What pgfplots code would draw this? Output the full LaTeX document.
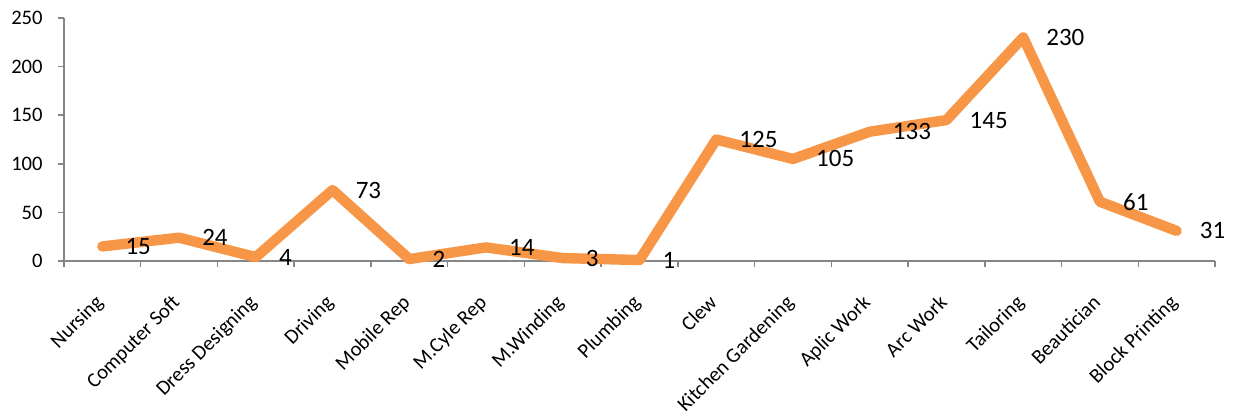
\documentclass[border=0pt]{standalone}
\usepackage{pgfplots}
\pgfplotsset{compat=1.18}
\usepackage{fontspec}
\setmainfont{Carlito}
\definecolor{lineorange}{HTML}{F79646}
\definecolor{axisgray}{HTML}{868686}

\begin{document}
\begin{tikzpicture}
  \begin{axis}[
      scale only axis,
      width=575.5pt, height=121.5pt,
      xmin=-0.5, xmax=14.5,
      ymin=0, ymax=250,
      ytick={0,50,...,250},
      xtick={0,...,14},
      xticklabels={Nursing, Computer Soft, Dress Designing, Driving, Mobile Rep,
        M.Cyle Rep, M.Winding, Plumbing, Clew, Kitchen Gardening, Aplic Work,
        Arc Work, Tailoring, Beautician, Block Printing},
      minor xtick={-0.5,0.5,...,14.5},
      axis x line=bottom, axis y line=left,
      axis line style={-, draw=axisgray, line width=0.75pt},
      tick style={draw=axisgray, line width=0.75pt},
      major x tick style={draw=none},
      tick align=outside,
      major tick length=3pt, minor tick length=3pt,
      /pgf/number format/assume math mode=true,
      tick label style={font=\fontsize{10.3}{12}\selectfont},
      yticklabel style={inner sep=0pt, xshift=-7.5pt},
      xticklabel style={inner sep=0pt, xshift=-4.2pt, yshift=-13pt,
        rotate=45, anchor=north east},
      clip=false,
      nodes near coords,
      point meta=explicit symbolic,
      every node near coord/.append style={anchor=west, inner sep=0pt,
        xshift=9pt, font=\fontsize{12.5}{14}\selectfont, text=black},
    ]
    \addplot[lineorange, line width=5.2pt, line join=round, line cap=round]
      coordinates {
        (0,15) [15] (1,24) [24] (2,4) [4] (3,73) [73] (4,2) [2]
        (5,14) [14] (6,3) [3] (7,1) [1] (8,125) [125] (9,105) [105]
        (10,133) [133] (11,145) [145] (12,230) [230] (13,61) [61] (14,31) [31]
      };
    % page margins as in the reference
    \path (rel axis cs:0,1) ++(-32pt,9pt);
    \path (rel axis cs:1,0) ++(9pt,-76pt);
  \end{axis}
\end{tikzpicture}
\end{document}
